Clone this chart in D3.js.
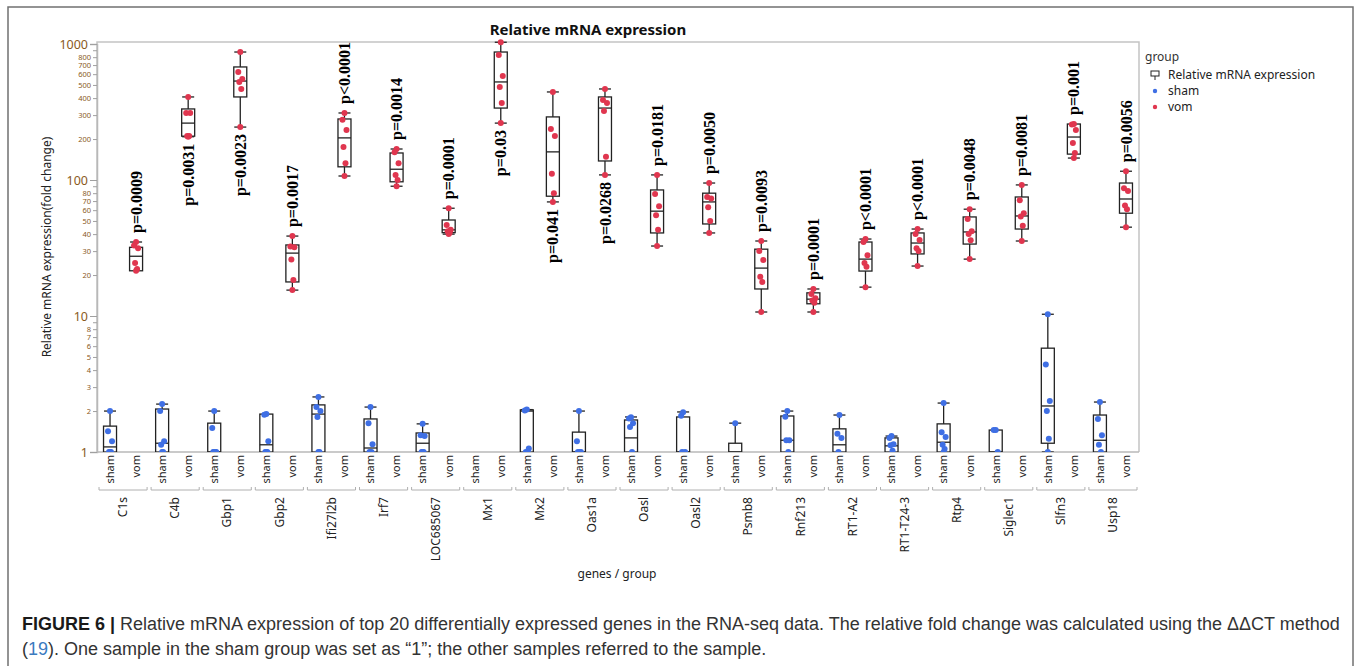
<!DOCTYPE html>
<html lang="en">

<head>
    <meta charset="utf-8">
    <title>Relative mRNA expression</title>
    <script type="text/javascript" src="https://d3js.org/d3.v7.min.js"></script>
    <style>
        body { margin: 0; background: #fff; }
        text { font-family: "Noto Sans", sans-serif; }
        text.pval { font-family: "Liberation Serif", serif; font-weight: bold; }
        text.caption { font-family: "Liberation Sans", sans-serif; }
    </style>
</head>

<body>
    <div id="container"></div>
    <script type="text/javascript">
        var w = 1360;
        var h = 666;

        // genes on the x axis
        const genes = ["C1s", "C4b", "Gbp1", "Gbp2", "Ifi27l2b", "Irf7", "LOC685067", "Mx1", "Mx2", "Oas1a",
            "Oasl", "Oasl2", "Psmb8", "Rnf213", "RT1-A2", "RT1-T24-3", "Rtp4", "Siglec1", "Slfn3", "Usp18"];
        const groups = ["sham", "vom"];

        // box stats per gene: [low whisker, q1, median, q3, high whisker]
        const shamBox = [
            [1, 1, 1.09, 1.55, 2.0], [1, 1, 1.16, 2.07, 2.25], [1, 1, 1, 1.63, 2.0], [1, 1, 1.13, 1.9, 1.9],
            [1, 1, 1.9, 2.22, 2.54], [1, 1, 1.07, 1.75, 2.14], [1, 1, 1.16, 1.38, 1.61], null,
            [1, 1, 2.0, 2.04, 2.05], [1, 1, 1, 1.4, 2.0], [1, 1, 1.27, 1.72, 1.81], [1, 1, 1, 1.81, 1.97],
            [1, 1, 1, 1.16, 1.63], [1, 1, 1.22, 1.84, 2.0], [1, 1, 1.13, 1.48, 1.87], [1, 1, 1.11, 1.27, 1.31],
            [1, 1, 1.18, 1.61, 2.29], [1, 1, 1, 1.45, 1.45], [1, 1.16, 2.18, 5.8, 10.3], [1, 1, 1.22, 1.87, 2.33]
        ];
        const vomBox = [
            [21.5, 21.5, 27.5, 32, 35], [208, 210, 262, 333, 408], [245, 408, 534, 678, 873], [15.5, 17.8, 29, 33.3, 38.7],
            [107, 125, 204, 281, 311], [90, 97, 120, 158, 169], [40, 41, 43, 50.8, 62], [262, 338, 526, 873, 1030],
            [69, 76, 161, 291, 444], [109, 138, 338, 408, 467], [32.7, 40.8, 59, 84.5, 109], [40.8, 47.5, 69, 80, 95],
            [10.7, 15.8, 22.5, 31, 35.6], [10.7, 12.3, 13.3, 14.8, 15.8], [16.3, 21.4, 26.2, 35, 36.8], [23.3, 28.6, 34.4, 40.8, 43.6],
            [26.2, 33.8, 41.5, 53.5, 61], [35.6, 43.6, 54.4, 75, 92], [145, 155, 207, 258, 258], [45, 57, 72.5, 95, 116]
        ];

        // individual samples
        const shamPoints = [
            [2.0, 1.42, 1.2, 1, 1, 1], [2.25, 2.0, 1.2, 1.13, 1, 1], [2.0, 1.5, 1, 1, 1, 1], [1.9, 1.88, 1.2, 1, 1, 1],
            [2.54, 2.14, 2.0, 1.81, 1, 1], [2.14, 1.63, 1.14, 1, 1, 1], [1.61, 1.33, 1.31, 1, 1, 1], [],
            [2.05, 2.02, 1.06, 1, 1], [2.0, 1.2, 1, 1, 1], [1.8, 1.76, 1.63, 1.53, 1], [1.96, 1.85, 1, 1],
            [1.63], [2.0, 1.82, 1.22, 1.22, 1], [1.87, 1.36, 1.27, 1], [1.31, 1.27, 1.14, 1.12, 1.02],
            [2.29, 1.4, 1.29, 1.13, 1.05, 1], [1.45, 1.45, 1], [10.3, 4.4, 2.37, 2.0, 1.25, 1], [2.33, 1.75, 1.33, 1.13, 1]
        ];
        const vomPoints = [
            [35, 33, 31.5, 24.5, 22.2, 21.5], [408, 311, 311, 211, 211, 208], [873, 622, 553, 525, 467, 245], [38.7, 32.5, 32, 26, 18.4, 15.5],
            [311, 277, 233, 175, 133, 107], [169, 160, 133, 109, 100, 90], [62, 46.7, 43, 42, 41, 40], [1030, 830, 582, 483, 368, 262],
            [444, 237, 211, 111, 80, 69], [467, 387, 368, 321, 148, 109], [109, 79, 64, 55, 43, 32.7], [95, 75, 73, 63, 50, 40.8],
            [35.6, 30, 25.8, 19.4, 17.8, 10.7], [15.8, 14.5, 13.5, 13, 12.5, 10.7], [36.8, 35, 28, 24.5, 23, 16.3], [43.6, 40, 36.2, 31.5, 30, 23.3],
            [61, 51.7, 42, 40, 36, 26.2], [92, 71, 57, 54, 46, 35.6], [258, 256, 233, 187, 158, 145], [116, 87, 83, 65, 61, 45]
        ];

        // p values and where they sit (over or under the vom box)
        const pLabels = ["p=0.0009", "p=0.0031", "p=0.0023", "p=0.0017", "p<0.0001", "p=0.0014", "p=0.0001", "p=0.03", "p=0.041", "p=0.0268",
            "p=0.0181", "p=0.0050", "p=0.0093", "p=0.0001", "p<0.0001", "p<0.0001", "p=0.0048", "p=0.0081", "p=0.001", "p=0.0056"];
        const pSide = ["above", "below", "below", "above", "above", "above", "above", "below", "below", "below",
            "above", "above", "above", "above", "above", "above", "above", "above", "above", "above"];

        const majorTicks = [1, 10, 100, 1000];
        const minorTicks = [2, 3, 4, 5, 6, 7, 8, 9, 20, 30, 40, 50, 60, 70, 80, 90, 200, 300, 400, 500, 600, 700, 800, 900];
        const minorLabels = [2, 3, 4, 5, 6, 7, 8, 20, 30, 40, 50, 60, 70, 80, 200, 300, 400, 500, 600, 700, 800];

        const colors = { sham: "#3f6fe4", vom: "#e0364f" };
        const jitter = [0, -2, 2, -1, 1, 0, 2];

        const pLeft = 97, pRight = 1139, pTop = 42, pBottom = 452;

        const svg = d3.select("div#container")
            .append("svg")
            .attr("width", w)
            .attr("height", h);

        // figure frame
        svg.append("rect")
            .attr("x", 8).attr("y", 7).attr("width", 1345).attr("height", 680)
            .attr("fill", "none").attr("stroke", "#707070").attr("stroke-width", 1.5);

        var y = d3.scaleLog().domain([1, 1000]).range([pBottom, 44]);
        var xGene = d3.scaleBand().domain(genes).range([pLeft, pRight]);
        var xGroup = d3.scaleBand().domain(groups).range([0, xGene.bandwidth()]);
        const cx = (g, grp) => xGene(g) + xGroup(grp) + xGroup.bandwidth() / 2;

        // plot frame
        svg.append("path")
            .attr("d", `M${pLeft},${pBottom}V${pTop}H${pRight}V${pBottom}`)
            .attr("fill", "none").attr("stroke", "#c4c4c4").attr("stroke-width", 1.5);
        svg.append("line")
            .attr("x1", pLeft).attr("x2", pRight).attr("y1", pBottom).attr("y2", pBottom)
            .attr("stroke", "#b8b8b8").attr("stroke-width", 1.5);

        // y axis
        const yAxis = svg.append("g").attr("transform", `translate(${pLeft},0)`);
        yAxis.call(d3.axisLeft(y).tickValues(majorTicks).tickSize(7).tickFormat(d3.format("d")));
        yAxis.select(".domain").attr("stroke", "#b8b8b8").attr("stroke-width", 1.5);
        yAxis.selectAll(".tick line").attr("stroke", "#a0a0a0");
        yAxis.selectAll(".tick text").attr("font-size", 12.5).attr("fill", "#8a5a1c").attr("x", -9);

        const yMinor = svg.append("g").attr("transform", `translate(${pLeft},0)`);
        yMinor.call(d3.axisLeft(y).tickValues(minorTicks).tickSize(4)
            .tickFormat(d => minorLabels.includes(d) ? d : ""));
        yMinor.select(".domain").remove();
        yMinor.selectAll(".tick line").attr("stroke", "#a0a0a0");
        yMinor.selectAll(".tick text").attr("font-size", 7.5).attr("fill", "#8a5a1c").attr("x", -6);

        svg.append("text")
            .attr("transform", `translate(51,${(pTop + pBottom) / 2}) rotate(-90)`)
            .attr("text-anchor", "middle")
            .attr("font-size", 12)
            .attr("fill", "#222")
            .text("Relative mRNA expression(fold change)");

        // title
        svg.append("text")
            .attr("x", 588).attr("y", 35)
            .attr("text-anchor", "middle")
            .attr("font-size", 15).attr("font-weight", "bold")
            .attr("fill", "#111")
            .text("Relative mRNA expression");

        // x axis labels
        const xg = svg.append("g");
        genes.forEach(function (g) {
            groups.forEach(function (grp) {
                xg.append("text")
                    .attr("transform", `translate(${cx(g, grp)},455) rotate(-90)`)
                    .attr("text-anchor", "end")
                    .attr("dy", "0.35em")
                    .attr("font-size", 11)
                    .attr("fill", "#222")
                    .text(grp);
            });
            const x0 = xGene(g) + 2, x1 = xGene(g) + xGene.bandwidth() - 2;
            xg.append("path")
                .attr("d", `M${x0},487V490H${x1}V487`)
                .attr("fill", "none").attr("stroke", "#b0b0b0");
            xg.append("text")
                .attr("transform", `translate(${xGene(g) + xGene.bandwidth() / 2},497) rotate(-90)`)
                .attr("text-anchor", "end")
                .attr("dy", "0.35em")
                .attr("font-size", 12)
                .attr("fill", "#222")
                .text(g);
        });

        svg.append("text")
            .attr("x", 617).attr("y", 578)
            .attr("text-anchor", "middle")
            .attr("font-size", 12)
            .attr("fill", "#222")
            .text("genes / group");

        // boxes and points
        svg.append("clipPath").attr("id", "plotclip")
            .append("rect").attr("x", pLeft).attr("y", 0).attr("width", pRight - pLeft).attr("height", pBottom);
        const plot = svg.append("g").attr("clip-path", "url(#plotclip)");

        function drawBox(g, grp, b) {
            if (!b) return;
            const x = cx(g, grp), bw = 13, cap = 12;
            plot.append("line")
                .attr("x1", x).attr("x2", x).attr("y1", y(b[0])).attr("y2", y(b[4]))
                .attr("stroke", "#222").attr("stroke-width", 1.3);
            [b[0], b[4]].forEach(function (v) {
                if (v === b[1] || v === b[3]) return;
                plot.append("line")
                    .attr("x1", x - cap / 2).attr("x2", x + cap / 2).attr("y1", y(v)).attr("y2", y(v))
                    .attr("stroke", "#222").attr("stroke-width", 1.3);
            });
            plot.append("rect")
                .attr("x", x - bw / 2).attr("width", bw)
                .attr("y", y(b[3])).attr("height", Math.max(0.5, y(b[1]) - y(b[3])))
                .attr("fill", "#fff").attr("stroke", "#222").attr("stroke-width", 1.3);
            plot.append("line")
                .attr("x1", x - bw / 2).attr("x2", x + bw / 2).attr("y1", y(b[2])).attr("y2", y(b[2]))
                .attr("stroke", "#222").attr("stroke-width", 1.3);
        }

        function drawPoints(g, grp, pts) {
            plot.selectAll(null)
                .data(pts)
                .enter()
                .append("circle")
                .attr("cx", (d, i) => cx(g, grp) + jitter[i % jitter.length])
                .attr("cy", d => y(d))
                .attr("r", 3)
                .attr("fill", colors[grp]);
        }

        genes.forEach(function (g, i) {
            drawBox(g, "sham", shamBox[i]);
            drawBox(g, "vom", vomBox[i]);
            drawPoints(g, "sham", shamPoints[i]);
            drawPoints(g, "vom", vomPoints[i]);
        });

        // p values
        genes.forEach(function (g, i) {
            const up = pSide[i] === "above";
            const yy = up ? y(vomBox[i][4]) - 9 : y(vomBox[i][0]) + 7;
            svg.append("text")
                .attr("class", "pval")
                .attr("transform", `translate(${cx(g, "vom")},${yy}) rotate(-90)`)
                .attr("text-anchor", up ? "start" : "end")
                .attr("dy", "0.35em")
                .attr("font-size", 16)
                .attr("fill", "#000")
                .text(pLabels[i]);
        });

        // legend
        const lg = svg.append("g").attr("transform", "translate(1145,0)");
        lg.append("text").attr("x", 0).attr("y", 61).attr("font-size", 12).attr("fill", "#333").text("group");
        lg.append("rect").attr("x", 6).attr("y", 71).attr("width", 8).attr("height", 5)
            .attr("fill", "none").attr("stroke", "#222");
        lg.append("line").attr("x1", 10).attr("x2", 10).attr("y1", 76).attr("y2", 80).attr("stroke", "#222");
        lg.append("text").attr("x", 23).attr("y", 79).attr("font-size", 12).attr("fill", "#222").text("Relative mRNA expression");
        groups.forEach(function (grp, i) {
            lg.append("circle").attr("cx", 10).attr("cy", 91 + i * 16).attr("r", 2.2).attr("fill", colors[grp]);
            lg.append("text").attr("x", 23).attr("y", 95 + i * 16).attr("font-size", 12).attr("fill", "#222").text(grp);
        });

        // caption
        const cap1 = svg.append("text").attr("class", "caption").attr("x", 22).attr("y", 630)
            .attr("font-size", 18).attr("fill", "#333");
        cap1.append("tspan").attr("font-weight", "bold").attr("fill", "#1a1a1a").text("FIGURE 6 | ");
        cap1.append("tspan").text("Relative mRNA expression of top 20 differentially expressed genes in the RNA-seq data. The relative fold change was calculated using the \u0394\u0394CT method");

        const cap2 = svg.append("text").attr("class", "caption").attr("x", 22).attr("y", 655)
            .attr("font-size", 18).attr("fill", "#333");
        cap2.append("tspan").text("(");
        cap2.append("tspan").attr("fill", "#3b7bbf").text("19");
        cap2.append("tspan").text("). One sample in the sham group was set as \u201c1\u201d; the other samples referred to the sample.");
    </script>
</body>

</html>
